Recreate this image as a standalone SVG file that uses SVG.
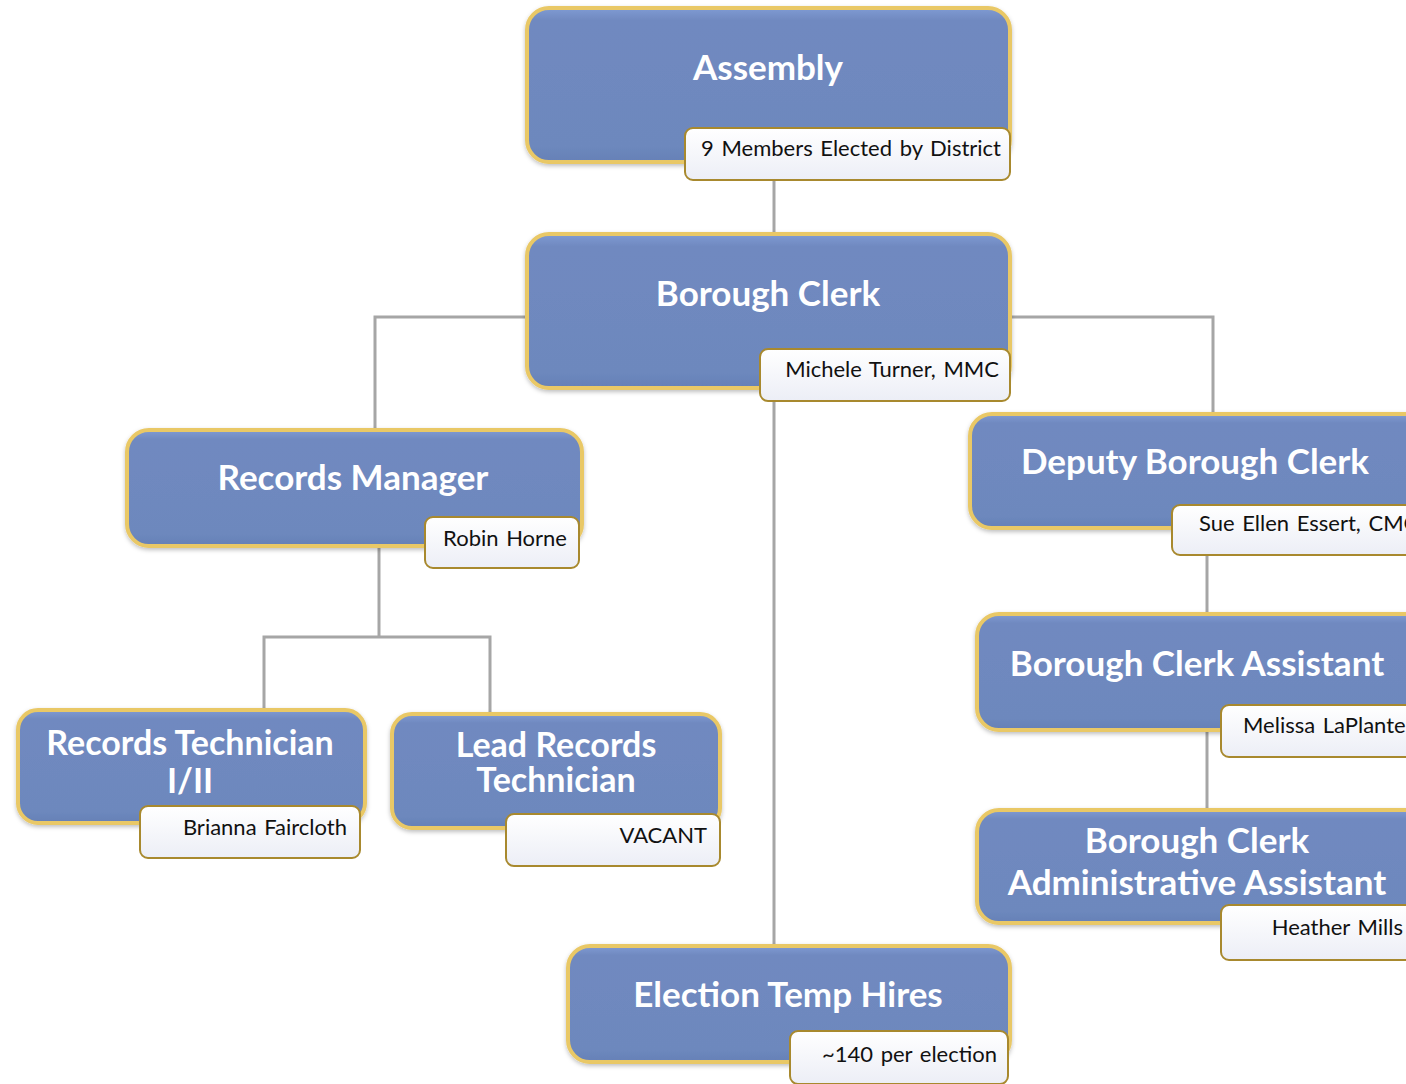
<svg xmlns="http://www.w3.org/2000/svg" width="1406" height="1084" viewBox="0 0 1406 1084">
<defs>
<linearGradient id="gBox" x1="0" y1="0" x2="0" y2="1">
<stop offset="0" stop-color="#7f9bd3"/>
<stop offset="0.08" stop-color="#7089c0"/>
<stop offset="0.9" stop-color="#6d88bd"/>
<stop offset="1" stop-color="#6580b6"/>
</linearGradient>
<linearGradient id="gLab" x1="0" y1="0" x2="0" y2="1">
<stop offset="0" stop-color="#ffffff"/>
<stop offset="1" stop-color="#eceef6"/>
</linearGradient>
<filter id="sh" x="-5%" y="-5%" width="110%" height="115%">
<feDropShadow dx="0" dy="2" stdDeviation="2" flood-color="#000" flood-opacity="0.25"/>
</filter>
</defs>
<style>
.box{fill:url(#gBox);stroke:#e9c866;stroke-width:4;filter:url(#sh)}
.lab{fill:url(#gLab);stroke:#a8892e;stroke-width:2}
.t{font-family:Lato,"Open Sans",sans-serif;font-weight:bold;font-size:35px;fill:#fff;text-anchor:middle}
.t2{font-size:34px}
.n{font-family:Lato,"Open Sans",sans-serif;font-size:22px;fill:#111;word-spacing:2px}
.r{text-anchor:end}
.c{fill:none;stroke:#a6a6a6;stroke-width:3}
</style>
<rect width="1406" height="1084" fill="#fff"/>
<g id="connectors">
<path class="c" d="M774 180V234"/>
<path class="c" d="M527 317H375V430"/>
<path class="c" d="M1010 317H1213V414"/>
<path class="c" d="M774 401V944"/>
<path class="c" d="M379 546V637"/>
<path class="c" d="M264 710V637H490V712"/>
<path class="c" d="M1207 555V614"/>
<path class="c" d="M1207 730V810"/>
</g>
<g id="assembly">
<rect class="box" x="527" y="8" width="483" height="154" rx="22"/>
<text class="t" x="768" y="80">Assembly</text>
<rect class="lab" x="685" y="128" width="325" height="52" rx="8"/>
<text class="n r" x="1001" y="156">9 Members Elected by District</text>
</g>
<g id="borough-clerk">
<rect class="box" x="527" y="234" width="483" height="154" rx="22"/>
<text class="t" x="768" y="306">Borough Clerk</text>
<rect class="lab" x="760" y="349" width="250" height="52" rx="8"/>
<text class="n r" x="999" y="377">Michele Turner, MMC</text>
</g>
<g id="records-manager">
<rect class="box" x="127" y="430" width="455" height="116" rx="22"/>
<text class="t" x="353" y="490">Records Manager</text>
<rect class="lab" x="425" y="517" width="154" height="51" rx="8"/>
<text class="n r" x="567" y="546">Robin Horne</text>
</g>
<g id="deputy-borough-clerk">
<rect class="box" x="970" y="414" width="460" height="114" rx="22"/>
<text class="t" x="1195" y="474">Deputy Borough Clerk</text>
<rect class="lab" x="1172" y="505" width="250" height="50" rx="8"/>
<text class="n" x="1199" y="531">Sue Ellen Essert, CMC</text>
</g>
<g id="borough-clerk-assistant">
<rect class="box" x="977" y="614" width="460" height="116" rx="22"/>
<text class="t" x="1197" y="676">Borough Clerk Assistant</text>
<rect class="lab" x="1221" y="705" width="220" height="52" rx="8"/>
<text class="n" x="1243" y="733">Melissa LaPlante</text>
</g>
<g id="borough-clerk-admin-assistant">
<rect class="box" x="977" y="810" width="460" height="113" rx="22"/>
<text class="t" x="1197" y="853">Borough Clerk</text>
<text class="t" x="1197" y="895">Administrative Assistant</text>
<rect class="lab" x="1221" y="905" width="220" height="55" rx="8"/>
<text class="n r" x="1403" y="935">Heather Mills</text>
</g>
<g id="records-technician">
<rect class="box" x="18" y="710" width="347" height="113" rx="20"/>
<text class="t t2" x="190" y="755">Records Technician</text>
<text class="t t2" x="190" y="793">I/II</text>
<rect class="lab" x="140" y="806" width="220" height="52" rx="8"/>
<text class="n r" x="347" y="835">Brianna Faircloth</text>
</g>
<g id="lead-records-technician">
<rect class="box" x="392" y="714" width="328" height="114" rx="20"/>
<text class="t t2" x="556" y="757">Lead Records</text>
<text class="t t2" x="556" y="792">Technician</text>
<rect class="lab" x="506" y="814" width="214" height="52" rx="8"/>
<text class="n r" x="707" y="843">VACANT</text>
</g>
<g id="election-temp-hires">
<rect class="box" x="568" y="946" width="442" height="116" rx="22"/>
<text class="t" x="788" y="1007">Election Temp Hires</text>
<rect class="lab" x="790" y="1031" width="218" height="53" rx="8"/>
<text class="n r" x="997" y="1062">~140 per election</text>
</g>
</svg>
